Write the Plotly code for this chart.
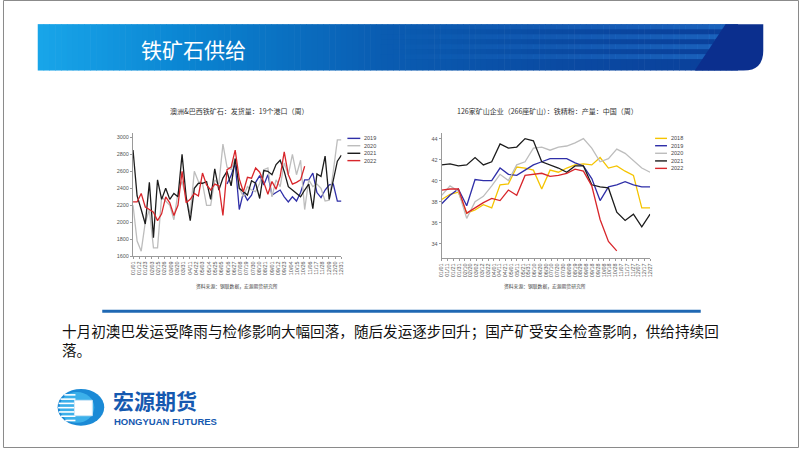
import plotly.graph_objects as go

W, H = 802, 451

# ---------------- text ----------------
slide_title = "铁矿石供给"
left_title = "澳洲&巴西铁矿石：发货量：19个港口（周）"
right_title = "126家矿山企业（266座矿山）：铁精粉：产量：中国（周）"
source_text = "资料来源：钢联数据，宏源期货研究所"
body_line1 = "十月初澳巴发运受降雨与检修影响大幅回落，随后发运逐步回升；国产矿受安全检查影响，供给持续回"
body_line2 = "落。"
logo_cn = "宏源期货"
logo_en = "HONGYUAN FUTURES"

# ---------------- left chart: shipments (weekly) ----------------
left_ticklabels = ["01/01", "01/12", "01/23", "02/03", "02/15", "02/26", "03/09", "03/20", "03/31",
                   "04/11", "04/22", "05/03", "05/14", "05/25", "06/05", "06/16", "06/27", "07/08",
                   "07/19", "07/30", "08/10", "08/21", "09/01", "09/12", "09/23", "10/04", "10/15",
                   "10/26", "11/06", "11/17", "11/28", "12/09", "12/20", "12/31"]
ship_weeks = list(range(52))
ship_years = ["2019", "2020", "2021", "2022"]
ship_2019 = [None] * 23 + [2450, 2550, 2700, 2150, 2350, 2260, 2320, 2470, 2550, 2440,
                           2560, 2320, 2350, 2380, 2300, 2240, 2300, 2250, 2350, 2500,
                           2500, 2580, 2350, 2290, 2380, 2440, 2450, 2250, 2250]
ship_2020 = [2200, 1780, 1660, 2000, 2150, 1700, 1700, 2300, 2250, 2200,
             2030, 2350, 2480, 2300, 2100, 2600, 2480, 2460, 2200, 2200,
             2500, 2450, 2920, 2650, 2620, 2750, 2400, 2300, 2420, 2380,
             2360, 2460, 2620, 2640, 2300, 2500, 2420, 2700, 2560, 2800,
             2560, 2730, 2150, 2500, 2420, 2450, 2400, 2250, 2260, 2600,
             2970, 2970]
ship_2021 = [2850, 2310, 2150, 1980, 2470, 1820, 2500, 2270, 2400, 2270,
             2340, 2300, 2800, 2300, 2020, 2400, 2460, 2460, 2480, 2270,
             2630, 2380, 2520, 2600, 2430, 2750, 2400, 2360, 2320, 2490,
             2460, 2280, 2610, 2600, 2560, 2680, 2730, 2600, 2420, 2380,
             2340, 2300, 2380, 2450, 2160, 2570, 2540, 2780, 2270, 2500,
             2720, 2790]
ship_2022 = [2240, 2240, 2340, 2180, 2150, 2120, 2020, 2100, 2300, 2230,
             2080, 2200, 2600, 2230, 2270, 2340, 2310, 2580, 2440, 2380,
             2450, 2430, 2080, 2620, 2650, 2850, 2510, 2360, 2530, 2520,
             2640, 2590, 2470, 2330, 2480, 2390, 2540, 2830, 2560, 2450,
             2470, 2500, 2660] + [None] * 9
ship_ticks = [1600, 1800, 2000, 2200, 2400, 2600, 2800, 3000]

# ---------------- right chart: concentrate output (bi-weekly) ----------------
right_ticklabels = ["01/01", "01/11", "01/21", "01/31", "02/10", "02/20", "03/02", "03/12", "03/22",
                    "04/01", "04/11", "04/21", "05/01", "05/11", "05/21", "05/31", "06/10", "06/20",
                    "06/30", "07/10", "07/20", "07/30", "08/09", "08/19", "08/29", "09/08", "09/18",
                    "09/28", "10/08", "10/18", "10/28", "11/07", "11/17", "11/27", "12/07", "12/17",
                    "12/27"]
conc_points = list(range(26))
conc_years = ["2018", "2019", "2020", "2021", "2022"]
conc_2018 = [38.2, 38.7, 38.9, 36.9, 37.2, 37.7, 37.4, 39.6, 39.7, 41.3, 41.2, 41.0, 39.2,
             41.0, 40.8, 41.2, 41.5, 41.6, 41.5, 42.2, 41.2, 41.4, 40.9, 40.5, 37.4, 37.4]
conc_2019 = [37.8, 38.6, 39.2, 37.6, 40.1, 40.0, 40.0, 41.2, 40.6, 40.5, 41.0, 41.5, 41.8,
             42.1, 42.1, 42.1, 41.7, 41.4, 40.2, 38.1, 39.4, 39.6, 39.9, 39.6, 39.4, 39.4]
conc_2020 = [38.6, 39.5, 39.0, 36.4, 38.0, 38.5, 39.5, 40.6, 40.0, 41.5, 41.8, 43.1, 43.2,
             42.9, 43.2, 43.3, 43.6, 44.0, 43.1, 41.8, 42.1, 43.0, 42.6, 41.9, 41.2, 40.8]
conc_2021 = [41.5, 41.6, 41.4, 41.5, 42.2, 41.5, 41.8, 43.5, 43.1, 43.2, 44.0, 43.8, 41.8,
             41.5, 41.2, 40.8, 41.4, 41.4, 39.6, 39.4, 39.3, 37.0, 36.2, 36.8, 35.6, 36.8]
conc_2022 = [39.1, 39.2, 39.2, 36.9, 37.4, 37.9, 38.3, 38.1, 39.1, 38.6, 40.5, 40.6, 40.7,
             40.4, 40.5, 40.7, 41.1, 40.9, 39.5, 36.3, 34.2, 33.3, None, None, None, None]
conc_ticks = [34, 36, 38, 40, 42, 44]

# ---------------- styles ----------------
year_colors = {"2018": "#f5c400", "2019": "#2f2fa8", "2020": "#bdbdbd",
               "2021": "#1c1c1c", "2022": "#d8262b"}
CJK = "Noto Sans CJK SC"
LAT = "Liberation Sans, Arial, sans-serif"


def X(px):
    return px / W


def Y(py):
    return 1 - py / H


fig = go.Figure()

for yr, vals in zip(ship_years, [ship_2019, ship_2020, ship_2021, ship_2022]):
    fig.add_trace(go.Scatter(x=ship_weeks, y=vals, mode="lines", name=yr,
                             line=dict(color=year_colors[yr], width=1.3),
                             xaxis="x", yaxis="y", connectgaps=False, hoverinfo="skip"))
for yr, vals in zip(conc_years, [conc_2018, conc_2019, conc_2020, conc_2021, conc_2022]):
    fig.add_trace(go.Scatter(x=conc_points, y=vals, mode="lines", name=yr,
                             line=dict(color=year_colors[yr], width=1.3),
                             xaxis="x2", yaxis="y2", connectgaps=False, hoverinfo="skip"))

axis_common = dict(showgrid=False, zeroline=False, showline=True, linecolor="#9a9a9a",
                   linewidth=1, ticks="outside", ticklen=2, tickcolor="#9a9a9a",
                   tickfont=dict(family=LAT, size=5.5, color="#555555"))

n_l = len(left_ticklabels)
n_r = len(right_ticklabels)
fig.update_layout(
    width=W, height=H, margin=dict(l=0, r=0, t=0, b=0),
    paper_bgcolor="white", plot_bgcolor="rgba(0,0,0,0)", showlegend=False,
    xaxis=dict(domain=[X(131), X(341)], range=[0, ship_weeks[-1]], anchor="y",
               tickmode="array",
               tickvals=[i * ship_weeks[-1] / (n_l - 1) for i in range(n_l)],
               ticktext=left_ticklabels, tickangle=-90, **axis_common),
    yaxis=dict(domain=[Y(258), Y(134)], range=[1600, 3050], anchor="x",
               tickmode="array", tickvals=ship_ticks, **axis_common),
    xaxis2=dict(domain=[X(442), X(652)], range=[0, conc_points[-1]], anchor="y2",
                tickmode="array",
                tickvals=[i * conc_points[-1] / (n_r - 1) for i in range(n_r)],
                ticktext=right_ticklabels, tickangle=-90, **axis_common),
    yaxis2=dict(domain=[Y(260), Y(134.3)], range=[32.6, 44.5], anchor="x2",
                tickmode="array", tickvals=conc_ticks, **axis_common),
)

shapes = []
annots = []

# ---- header band gradient ----
stops = [(35, (25, 166, 234)), (200, (10, 130, 208)), (380, (10, 93, 178)),
         (560, (11, 75, 163)), (740, (10, 63, 154))]


def grad(px):
    for (a, ca), (b, cb) in zip(stops[:-1], stops[1:]):
        if a <= px <= b:
            t = (px - a) / (b - a)
            return tuple(int(ca[k] + (cb[k] - ca[k]) * t) for k in range(3))
    return stops[-1][1]


n_strip = 120
x_start, x_end = 35, 740
sw = (x_end - x_start) / n_strip
for i in range(n_strip):
    x0 = x_start + i * sw
    c = grad(x0 + sw / 2)
    shapes.append(dict(type="rect", xref="paper", yref="paper",
                       x0=X(x0), x1=X(x0 + sw + 0.6), y0=Y(71), y1=Y(24.3),
                       fillcolor="rgb(%d,%d,%d)" % c, line=dict(width=0), layer="below"))

# lighter stripes on the right of the band
for (ya, yb) in [(24.3, 29.5), (34.5, 39.5), (44.5, 49.5), (54.5, 59.5)]:
    nseg = 30
    xa, xb = 380, 735
    for j in range(nseg):
        s0 = xa + (xb - xa) * j / nseg
        s1 = xa + (xb - xa) * (j + 1) / nseg + 0.5
        alpha = 0.55 * (j + 1) / nseg
        shapes.append(dict(type="rect", xref="paper", yref="paper",
                           x0=X(s0), x1=X(s1), y0=Y(yb), y1=Y(ya),
                           fillcolor="rgba(40,125,215,%.3f)" % alpha,
                           line=dict(width=0), layer="below"))

# dark navy rounded end
pts = "M %f %f L %f %f L %f %f Q %f %f %f %f L %f %f Z" % (
    X(728), Y(24.3), X(766), Y(24.3), X(766), Y(51),
    X(766), Y(71), X(746), Y(71), X(697), Y(71))
shapes.append(dict(type="path", xref="paper", yref="paper", path=pts,
                   fillcolor="#0b2f8e", line=dict(width=0), layer="below"))

# slide border
shapes.append(dict(type="rect", xref="paper", yref="paper",
                   x0=X(0.5), x1=X(801.5), y0=Y(450.5), y1=Y(0.5),
                   line=dict(color="#8a8a8a", width=1), fillcolor="rgba(0,0,0,0)"))

# separator line above body text
shapes.append(dict(type="line", xref="paper", yref="paper",
                   x0=X(100), x1=X(703), y0=Y(313.3), y1=Y(313.3),
                   line=dict(color="#1f68b3", width=3)))

# ---- logo icon ----
cx, cy, rx, ry = 78.5, 410, 23.5, 18.5
shapes.append(dict(type="circle", xref="paper", yref="paper",
                   x0=X(cx - rx), x1=X(cx + rx), y0=Y(cy + ry), y1=Y(cy - ry),
                   fillcolor="#1b8ad6", line=dict(width=0)))
shapes.append(dict(type="circle", xref="paper", yref="paper",
                   x0=X(cx - rx + 2), x1=X(cx + rx - 10), y0=Y(cy + ry - 3), y1=Y(cy - ry + 3),
                   fillcolor="#3cb0ea", line=dict(width=0)))
for k in range(7):
    yy = 397.5 + k * 4.3
    dy = (yy - cy) / ry
    half = rx * max(0.0, 1 - dy * dy) ** 0.5
    shapes.append(dict(type="line", xref="paper", yref="paper",
                       x0=X(cx - half + 0.5), x1=X(73), y0=Y(yy), y1=Y(yy),
                       line=dict(color="white", width=1.6)))
shapes.append(dict(type="rect", xref="paper", yref="paper",
                   x0=X(72), x1=X(90), y0=Y(418.5), y1=Y(403),
                   fillcolor="white", line=dict(color="#cfe6f7", width=1)))

# ---- legends (drawn manually) ----
def legend(years, x_line, y_list, x_text):
    for yr, yy in zip(years, y_list):
        shapes.append(dict(type="line", xref="paper", yref="paper",
                           x0=X(x_line[0]), x1=X(x_line[1]), y0=Y(yy), y1=Y(yy),
                           line=dict(color=year_colors[yr], width=1.4)))
        annots.append(dict(xref="paper", yref="paper", x=X(x_text), y=Y(yy),
                           text=yr, showarrow=False, xanchor="left", yanchor="middle",
                           font=dict(family=LAT, size=5.5, color="#444444")))


legend(ship_years, (347, 360), [139.3, 146.7, 154.3, 161.7], 362)
legend(conc_years, (657, 669), [139.3, 146.7, 154.3, 162.0, 169.5], 671)

# ---- text annotations ----
def txt(text, x, y, size, color, family=CJK, anchor="left"):
    annots.append(dict(xref="paper", yref="paper", x=X(x), y=Y(y), text=text,
                       showarrow=False, xanchor=anchor, yanchor="middle", borderpad=0,
                       font=dict(family=family, size=size, color=color)))


txt(slide_title, 138, 49, 21, "white")
txt(left_title, 238, 111.7, 7, "#333333", anchor="center")
txt(right_title, 549, 111.5, 7, "#333333", anchor="center")
txt(source_text, 236, 287.5, 4.8, "#444444", anchor="center")
txt(source_text, 546, 287.5, 4.8, "#444444", anchor="center")
txt(body_line1, 58, 333, 14.6, "#111111")
txt(body_line2, 58, 352, 14.6, "#111111")
txt("<b>" + logo_cn + "</b>", 110, 403, 21, "#1559b0")
txt("<b>" + logo_en + "</b>", 111, 424.5, 9.5, "#1559b0", family=LAT)

fig.update_layout(shapes=shapes, annotations=annots)
fig.write_html("out.html", config={"displayModeBar": False},
               post_script="document.body.style.margin='0';")
